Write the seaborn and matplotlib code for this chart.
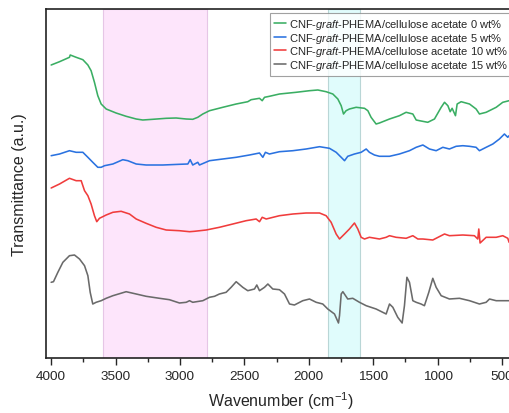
import numpy as np
import pandas as pd
import matplotlib
matplotlib.use("Agg")
import matplotlib.pyplot as plt
from matplotlib.ticker import MultipleLocator
import seaborn as sns

# FTIR spectra, offset for clarity (arbitrary transmittance units)
wn_0 = [4000, 3935, 3858, 3852, 3806, 3754, 3715, 3690, 3664, 3638, 3612, 3573, 3496,
        3418, 3340, 3289, 3211, 3107, 3030, 2952, 2901, 2862, 2823, 2771, 2668, 2564,
        2474, 2448, 2383, 2362, 2344, 2306, 2228, 2099, 1995, 1930, 1866, 1814, 1775,
        1749, 1731, 1711, 1685, 1633, 1568, 1542, 1517, 1478, 1452, 1374, 1297, 1245,
        1193, 1167, 1141, 1077, 1025, 973, 947, 921, 903, 888, 862, 849, 818, 753,
        702, 676, 624, 546, 495, 446]
t_0 = [293, 296.3, 300.7, 303, 300.7, 298.3, 293, 287.3, 275.7, 262.3, 254, 249, 245,
       241.7, 239, 238, 238.7, 239.7, 240, 239, 238.7, 240.7, 244, 247.3, 250.7, 254,
       256.3, 258.3, 259.7, 257.3, 260.7, 261.7, 264, 265.7, 267.3, 268, 266.3, 264, 259,
       252.3, 244, 247.3, 249, 250.7, 249.7, 247.3, 240.7, 234, 235, 239, 242.3, 245.7,
       244, 238, 237.3, 235.7, 239, 250.7, 255.7, 252.3, 246.3, 249.7, 242.3, 254, 256.3, 254,
       249, 244, 245.7, 250.7, 255.7, 257.3]

wn_5 = [4000, 3935, 3858, 3806, 3754, 3715, 3677, 3638, 3612, 3586, 3521, 3444, 3405,
        3340, 3263, 3133, 3004, 2939, 2921, 2901, 2862, 2849, 2771, 2668, 2564, 2461,
        2383, 2357, 2337, 2306, 2228, 2124, 2021, 1917, 1840, 1788, 1749, 1723, 1698,
        1646, 1594, 1555, 1530, 1491, 1452, 1374, 1297, 1219, 1167, 1115, 1064, 1012,
        960, 909, 857, 805, 753, 702, 676, 624, 572, 521, 482, 456, 446]
t_5 = [202.3, 204, 207.3, 205.7, 205.7, 200.7, 195.7, 190.7, 190.7, 192.3, 194, 198.3, 197.3,
       194, 193, 193, 193.7, 194, 198.3, 193, 195.7, 193, 197.3, 199, 200.7, 203,
       205, 200.7, 205.7, 204, 206.3, 207.3, 209, 211.3, 209.7, 205.7, 200.7, 197.3, 201.7,
       204, 205.7, 209, 205.7, 203, 201.7, 201.7, 204, 207.3, 210.7, 213, 209, 207.3,
       210.7, 209, 211.7, 212.3, 211.7, 210.7, 207.3, 210.7, 214, 219, 224, 220.7, 222.3]

wn_10 = [4000, 3935, 3858, 3806, 3767, 3741, 3715, 3690, 3664, 3646, 3625, 3573, 3521,
         3457, 3392, 3340, 3263, 3185, 3107, 3004, 2926, 2888, 2797, 2694, 2590, 2487,
         2409, 2383, 2362, 2331, 2228, 2124, 2021, 1917, 1866, 1827, 1788, 1762, 1723,
         1685, 1646, 1620, 1594, 1568, 1530, 1452, 1400, 1374, 1323, 1245, 1193, 1154,
         1115, 1038, 973, 947, 909, 805, 715, 689, 681, 671, 624, 546, 495, 456, 446]
t_10 = [170, 174, 179.7, 177.3, 177.3, 167.3, 162.3, 154, 142.3, 136.3, 139.7, 143, 145.7,
        146.7, 144, 139, 134.7, 130.7, 128, 127.3, 126.3, 126.7, 128, 130.7, 134, 137.3,
        139, 136.3, 140.7, 139, 142.3, 144, 145, 145, 142.3, 135.7, 124, 119, 124,
        129, 135, 129, 120.7, 119, 120.7, 119, 120.7, 122.3, 120.7, 119.7, 122.3, 119,
        119, 118, 122.3, 124, 122.3, 123, 122.3, 119, 129, 115, 120.7, 120.7, 122.3, 119.7, 115.7]

wn_15 = [4000, 3982, 3948, 3909, 3858, 3819, 3780, 3741, 3715, 3697, 3677, 3651, 3612,
         3573, 3521, 3418, 3340, 3263, 3159, 3082, 3004, 2952, 2926, 2901, 2823, 2771,
         2732, 2694, 2642, 2603, 2564, 2513, 2474, 2422, 2404, 2383, 2344, 2318, 2280,
         2228, 2189, 2150, 2112, 2047, 1995, 1943, 1892, 1853, 1801, 1770, 1762, 1749,
         1736, 1698, 1659, 1607, 1555, 1478, 1400, 1374, 1348, 1310, 1276, 1258, 1239,
         1219, 1193, 1167, 1129, 1103, 1069, 1038, 1012, 973, 909, 831, 753, 676, 624,
         598, 546, 446]
t_15 = [75.7, 76.3, 85.7, 95.7, 102.3, 103, 99, 92.3, 82.3, 65.7, 54, 55.7, 57.3,
        59.7, 62.3, 66.3, 64, 61.7, 59.7, 58.3, 55, 55.7, 57.3, 55.7, 57.3, 60.7,
        61.7, 64, 65.7, 70.7, 76.3, 70.7, 67.3, 69, 73, 67.3, 70.7, 74, 69,
        68.3, 64, 54, 53, 57.3, 59, 55.7, 54, 49, 44, 35, 42.3, 64,
        66.3, 59, 59.7, 55.7, 52.3, 49, 44, 54, 50.7, 40.7, 35, 52.3, 80.7,
        75.7, 57.3, 55.7, 54, 52.3, 65.7, 79.7, 70.7, 62.3, 59, 59.7, 57.3, 54, 55.7,
        59, 57.3, 57.3]

samples = [r"CNF-$\mathit{graft}$-PHEMA/cellulose acetate 0 wt%",
           r"CNF-$\mathit{graft}$-PHEMA/cellulose acetate 5 wt%",
           r"CNF-$\mathit{graft}$-PHEMA/cellulose acetate 10 wt%",
           r"CNF-$\mathit{graft}$-PHEMA/cellulose acetate 15 wt%"]
colors = ["#3aae63", "#2a72e0", "#f03c3c", "#6a6a6a"]

# highlighted absorption bands (cm-1)
band_oh = (3600, 2790)
band_co = (1850, 1602)

sns.set_style("ticks")
plt.rcParams["font.family"] = ["Liberation Sans", "DejaVu Sans"]
plt.rcParams["mathtext.fontset"] = "custom"
plt.rcParams["mathtext.rm"] = "Liberation Sans"
plt.rcParams["mathtext.it"] = "Liberation Sans:italic"

fig = plt.figure(figsize=(5.09, 4.14), dpi=100)
ax = fig.add_axes([46 / 509, 55 / 414, 469 / 509, 349 / 414])

ax.axvspan(*band_oh, facecolor="#fde5fb", edgecolor="#e6c6e6", linewidth=0.8, zorder=0)
ax.axvspan(*band_co, facecolor="#e0fcfc", edgecolor="#b9d6d6", linewidth=0.8, zorder=0)

frames = []
for wn, t, name in zip([wn_0, wn_5, wn_10, wn_15], [t_0, t_5, t_10, t_15], samples):
    frames.append(pd.DataFrame({"wavenumber": wn, "T": t, "sample": name}))
df = pd.concat(frames, ignore_index=True)

sns.lineplot(data=df, x="wavenumber", y="T", hue="sample", palette=colors,
             estimator=None, sort=False, linewidth=1.15, ax=ax, legend=False)

ax.set_xlim(4040, 400)
ax.set_ylim(0, 349)
ax.xaxis.set_major_locator(MultipleLocator(500))
ax.xaxis.set_minor_locator(MultipleLocator(250))
ax.set_yticks([])
ax.tick_params(axis="x", which="major", direction="out", length=5, width=1,
               labelsize=9.7, pad=4)
ax.tick_params(axis="x", which="minor", direction="out", length=3, width=1)
for side in ["left", "bottom", "top"]:
    ax.spines[side].set_visible(True)
    ax.spines[side].set_linewidth(1.2)
    ax.spines[side].set_color("#222222")
ax.spines["right"].set_visible(False)

ax.set_xlabel("Wavenumber (cm$^{-1}$)", fontsize=11.5, labelpad=5)
ax.set_ylabel("Transmittance (a.u.)", fontsize=11.5, labelpad=14)

handles = ax.get_lines()[:4]
leg = ax.legend(handles, samples, loc="upper left",
                bbox_to_anchor=(270 / 509, 1 - 14 / 414), bbox_transform=fig.transFigure,
                fontsize=8, frameon=True, fancybox=False, borderaxespad=0,
                handlelength=1.1, handletextpad=0.25, borderpad=0.35,
                labelspacing=-0.03)
leg.get_frame().set_edgecolor("#8a8a8a")
leg.get_frame().set_linewidth(0.8)

fig.savefig("out.png", dpi=100)
